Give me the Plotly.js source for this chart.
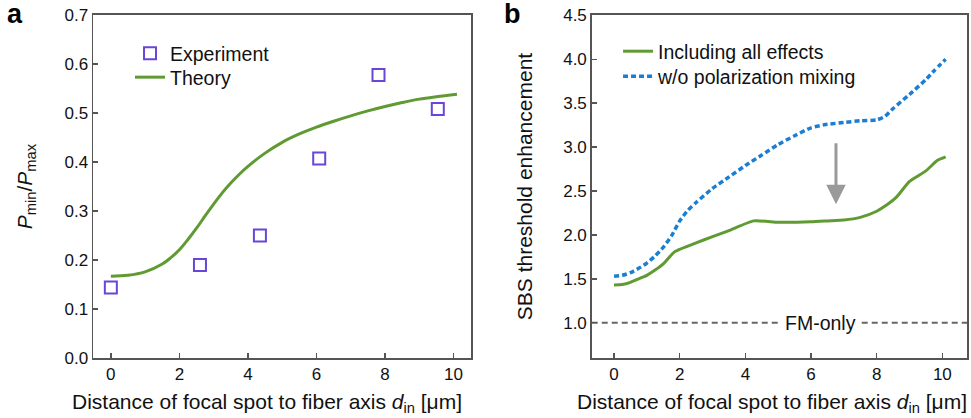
<!DOCTYPE html>
<html>
<head>
<meta charset="utf-8">
<script src="https://cdn.plot.ly/plotly-3.0.1.min.js"></script>
<style>html,body{margin:0;padding:0;background:#fff;}#chart{width:971px;height:418px;}</style>
</head>
<body>
<div id="chart"></div>
<script>
// Panel a data
const expX = [0, 2.6, 4.35, 6.08, 7.81, 9.54];
const expY = [0.144, 0.190, 0.250, 0.407, 0.577, 0.508];
const theoryX = [0, 0.5, 1, 1.5, 1.75, 2, 2.25, 2.5, 2.75, 3, 3.25, 3.5, 3.75, 4, 4.5, 5, 5.5, 6, 6.5, 7, 7.5, 8, 8.5, 9, 9.5, 10.1];
const theoryY = [0.167, 0.169, 0.176, 0.192, 0.205, 0.221, 0.242, 0.265, 0.290, 0.314, 0.337, 0.357, 0.375, 0.391, 0.418, 0.440, 0.457, 0.471, 0.483, 0.494, 0.504, 0.513, 0.521, 0.528, 0.533, 0.538];
const ticksA_X = [0, 2, 4, 6, 8, 10];
const ticksA_Y = [0, 0.1, 0.2, 0.3, 0.4, 0.5, 0.6, 0.7];

// Panel b data
const allX = [0, 0.25, 0.5, 0.75, 1, 1.25, 1.5, 1.85, 2.5, 3, 3.5, 4.25, 5, 6, 6.5, 7, 7.5, 8, 8.3, 8.6, 9, 9.5, 9.85, 10.1];
const allY = [1.43, 1.435, 1.46, 1.50, 1.54, 1.60, 1.67, 1.81, 1.91, 1.98, 2.05, 2.16, 2.145, 2.15, 2.16, 2.17, 2.20, 2.27, 2.34, 2.43, 2.61, 2.73, 2.85, 2.89];
const noMixX = [0, 0.25, 0.5, 0.75, 1, 1.25, 1.5, 1.75, 2, 2.25, 2.5, 3, 3.5, 4, 4.5, 5, 5.5, 6, 6.5, 7, 7.5, 8, 8.25, 8.5, 9, 9.5, 9.75, 10.1];
const noMixY = [1.53, 1.54, 1.57, 1.62, 1.68, 1.76, 1.86, 1.99, 2.16, 2.28, 2.37, 2.53, 2.66, 2.79, 2.91, 3.03, 3.13, 3.22, 3.26, 3.28, 3.30, 3.31, 3.35, 3.44, 3.60, 3.77, 3.87, 4.0];
const fmOnlyLevel = 1.0;
const arrowX = 6.76, arrowFrom = 3.06, arrowTo = 2.35;
const ticksB_X = [0, 2, 4, 6, 8, 10];
const ticksB_Y = [1.0, 1.5, 2.0, 2.5, 3.0, 3.5, 4.0, 4.5];

const FONT = 'Liberation Sans, Arial, sans-serif';
const GREEN = '#5f9a32';
const BLUE = '#1a7fd4';
const PURPLE = '#6a45d8';
const AXC = '#555555';
const XTITLE = 'Distance of focal spot to fiber axis <i>d</i><sub>in</sub> [μm]';

const traces = [
  {x: expX, y: expY, type: 'scatter', mode: 'markers', name: 'Experiment',
   marker: {symbol: 'square-open', size: 12, color: PURPLE, line: {width: 2, color: PURPLE}},
   xaxis: 'x', yaxis: 'y', legend: 'legend'},
  {x: theoryX, y: theoryY, type: 'scatter', mode: 'lines', name: 'Theory',
   line: {color: GREEN, width: 3, shape: 'spline', smoothing: 1},
   xaxis: 'x', yaxis: 'y', legend: 'legend3'},
  {x: allX, y: allY, type: 'scatter', mode: 'lines', name: 'Including all effects',
   line: {color: GREEN, width: 3, shape: 'spline', smoothing: 0.5},
   xaxis: 'x2', yaxis: 'y2', legend: 'legend2'},
  {x: noMixX, y: noMixY, type: 'scatter', mode: 'lines', name: 'w/o polarization mixing',
   line: {color: BLUE, width: 3.5, dash: '5px,3px', shape: 'spline', smoothing: 0.6},
   xaxis: 'x2', yaxis: 'y2', legend: 'legend4'}
];

function axis(extra) {
  return Object.assign({
    showline: true, mirror: true, linecolor: AXC, linewidth: 1.5,
    ticks: 'inside', ticklen: 5, tickwidth: 1.5, tickcolor: AXC,
    showgrid: false, zeroline: false,
    tickfont: {family: FONT, size: 17, color: '#111'},
    automargin: false
  }, extra);
}
function leg(x, y) {
  return {x: x, y: y, xanchor: 'left', yanchor: 'top', bgcolor: 'rgba(0,0,0,0)',
    font: {family: FONT, size: 19.5, color: '#111'}, tracegroupgap: 0};
}

const layout = {
  width: 971, height: 418,
  margin: {l: 0, r: 0, t: 0, b: 0},
  paper_bgcolor: '#fff', plot_bgcolor: '#fff',
  font: {family: FONT, color: '#111'},
  xaxis: axis({domain: [0.0958, 0.4851], range: [-0.52, 10.51], tickvals: ticksA_X, anchor: 'y'}),
  yaxis: axis({domain: [0.1428, 0.9648], range: [0, 0.7], tickvals: ticksA_Y, tickformat: '.1f',
    title: {text: '<i>P</i><sub>min</sub>/<i>P</i><sub>max</sub>', font: {family: FONT, size: 21, color: '#111'}, standoff: 26},
    anchor: 'x'}),
  xaxis2: axis({domain: [0.6094, 0.9962], range: [-0.68, 10.76], tickvals: ticksB_X, anchor: 'y2'}),
  yaxis2: axis({domain: [0.1428, 0.9648], range: [0.595, 4.508], tickvals: ticksB_Y, tickformat: '.1f',
    title: {text: 'SBS threshold enhancement', font: {family: FONT, size: 21, color: '#111'}, standoff: 25},
    anchor: 'x2'}),
  showlegend: true,
  legend: leg(0.1339, 0.9187),
  legend3: leg(0.1339, 0.8613),
  legend2: leg(0.6365, 0.9234),
  legend4: leg(0.6365, 0.8636),
  shapes: [
    {type: 'line', xref: 'x2 domain', yref: 'y2', x0: 0, x1: 1, y0: fmOnlyLevel, y1: fmOnlyLevel,
     line: {color: '#666', width: 2, dash: '6px,4px'}, layer: 'below'}
  ],
  annotations: [
    {xref: 'paper', yref: 'paper', x: 266.5/971, y: 1 - 403/418, text: XTITLE, showarrow: false,
     font: {family: FONT, size: 21, color: '#111'}, xanchor: 'center', yanchor: 'middle'},
    {xref: 'paper', yref: 'paper', x: 772/971, y: 1 - 403/418, text: XTITLE, showarrow: false,
     font: {family: FONT, size: 21, color: '#111'}, xanchor: 'center', yanchor: 'middle'},
    {xref: 'x2', yref: 'y2', x: 6.3, y: fmOnlyLevel, text: 'FM-only', showarrow: false,
     font: {family: FONT, size: 19.5, color: '#111'}, bgcolor: '#fff', borderpad: 4, xanchor: 'center', yanchor: 'middle'},
    {xref: 'x2', yref: 'y2', x: arrowX, y: arrowTo, ax: arrowX, ay: arrowFrom, axref: 'x2', ayref: 'y2',
     showarrow: true, arrowhead: 2, arrowsize: 1.3, arrowwidth: 3, arrowcolor: '#9a9a9a', text: ''},
    {xref: 'paper', yref: 'paper', x: 15/971, y: 1 - 14/418, text: '<b>a</b>', showarrow: false,
     font: {family: FONT, size: 27, color: '#000'}, xanchor: 'center', yanchor: 'middle'},
    {xref: 'paper', yref: 'paper', x: 512/971, y: 1 - 14/418, text: '<b>b</b>', showarrow: false,
     font: {family: FONT, size: 27, color: '#000'}, xanchor: 'center', yanchor: 'middle'}
  ]
};

Plotly.newPlot('chart', traces, layout, {staticPlot: true, displayModeBar: false});
</script>
</body>
</html>
